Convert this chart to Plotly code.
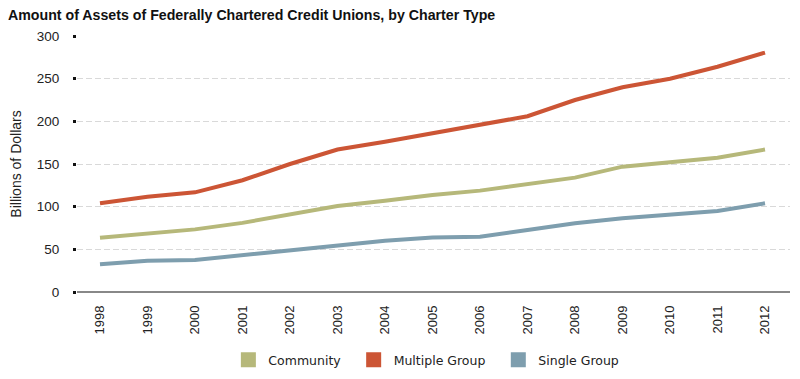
import plotly.graph_objects as go

years = list(range(1998, 2013))
community = [63.7, 68.7, 73.4, 81, 91, 100.8, 107, 113.7, 118.8, 126.6, 134, 146.9, 152, 157.4, 167]
multiple_group = [104, 111.7, 116.8, 131, 150, 167, 176, 186, 195.7, 206, 225, 240, 250, 264, 280.5]
single_group = [32.4, 36.7, 37.5, 43.4, 49, 55, 60, 64, 64.8, 72.7, 80.5, 86.3, 90.2, 95, 104]

series = [
    ("Community", community, "#b6b87a", "Community\u00a0\u00a0"),
    ("Multiple Group", multiple_group, "#cc5535", "Multiple Group\u00a0\u00a0"),
    ("Single Group", single_group, "#7e9eae", "Single Group"),
]

fig = go.Figure()
for name, vals, col, lab in series:
    fig.add_trace(go.Scatter(x=years, y=vals, mode="lines", name=name,
                             line=dict(color=col, width=4), showlegend=False))
for name, vals, col, lab in series:
    fig.add_trace(go.Scatter(x=[None], y=[None], mode="markers", name=lab,
                             marker=dict(symbol="square", size=15, color=col)))

fig.update_layout(
    width=792, height=371,
    margin=dict(l=69, r=10, t=28, b=87),
    paper_bgcolor="white", plot_bgcolor="white",
    font=dict(family="DejaVu Sans", size=12, color="#222"),
    title=dict(text="<b>Amount of Assets of Federally Chartered Credit Unions, by Charter Type</b>",
               x=0, xanchor="left", y=1, yanchor="top", pad=dict(t=2, l=0),
               font=dict(size=14.2, color="#111", family="Liberation Sans")),
    xaxis=dict(range=[1997.516, 2012.526], tickvals=years, ticktext=[str(y) for y in years],
               tickangle=-90, showgrid=False, zeroline=False, showline=False, ticks="",
               ticklabelstandoff=10, automargin=False,
               tickfont=dict(size=13, family="Liberation Sans")),
    yaxis=dict(range=[0, 300], tickvals=[0, 50, 100, 150, 200, 250, 300],
               showgrid=True, gridcolor="#d9d9d9", griddash="6px,3px", gridwidth=1,
               zeroline=True, zerolinecolor="#888", zerolinewidth=2,
               ticks="outside", ticklen=3, tickwidth=3, tickcolor="#111",
               ticklabelstandoff=11, automargin=False,
               title=dict(text="Billions of Dollars", font=dict(size=14, family="Liberation Sans"), standoff=22),
               tickfont=dict(size=13.5, family="Liberation Sans")),
    legend=dict(orientation="h", x=0.49, xanchor="center", yref="container", y=0.051, yanchor="middle",
                font=dict(size=12.5), itemwidth=30, tracegroupgap=0),
)
fig.write_html("out.html")
